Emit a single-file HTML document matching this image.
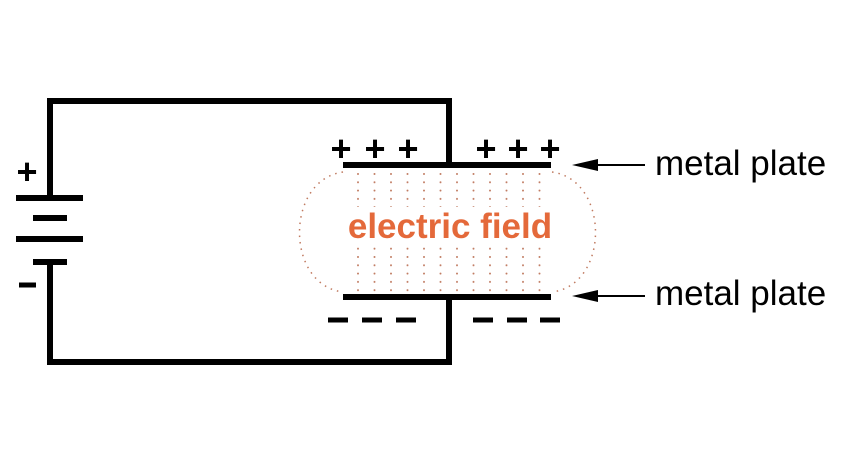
<!DOCTYPE html>
<html><head><style>body{margin:0;background:#fff}</style></head><body>
<svg width="866" height="463" viewBox="0 0 866 463" xmlns="http://www.w3.org/2000/svg">
<defs>
<pattern id="dots" x="357" y="173" width="16.5" height="8.3" patternUnits="userSpaceOnUse">
<circle cx="1" cy="1" r="1" fill="#c07a60"/>
</pattern>
</defs>
<rect x="354" y="172" width="190" height="122" fill="url(#dots)"/>
<rect x="345" y="207" width="212" height="40" fill="#fff"/>
<path d="M343,172 C285,180 285,285 343,292" fill="none" stroke="#c07a60" stroke-width="1.5" stroke-dasharray="1.5,5"/>
<path d="M552,172 C610,180 610,285 552,292" fill="none" stroke="#c07a60" stroke-width="1.5" stroke-dasharray="1.5,5"/>
<g stroke="#000" stroke-width="6" fill="none">
<polyline points="50,198 50,101 449,101 449,165"/>
<polyline points="50,262 50,362 449,362 449,297"/>
<line x1="16" y1="198" x2="83" y2="198"/>
<line x1="33" y1="218" x2="67" y2="218"/>
<line x1="16" y1="239" x2="83" y2="239"/>
<line x1="33" y1="262" x2="67" y2="262"/>
<line x1="343" y1="165" x2="551" y2="165"/>
<line x1="343" y1="297" x2="551" y2="297"/>
</g>
<g stroke="#000" stroke-width="2">
<line x1="580" y1="165" x2="645" y2="165"/>
<line x1="580" y1="296" x2="645" y2="296"/>
</g>
<polygon points="572,165 598,159 598,171" fill="#000"/>
<polygon points="572,296 598,290 598,302" fill="#000"/>
<g font-family="Liberation Sans, sans-serif" font-weight="bold" font-size="36" text-anchor="middle">
<text x="341" y="161">+</text><text x="375" y="161">+</text><text x="408" y="161">+</text>
<text x="486" y="161">+</text><text x="518" y="161">+</text><text x="550" y="161">+</text>
<text x="27" y="184">+</text>
</g>
<g stroke="#000" stroke-width="5">
<line x1="328" y1="320" x2="348" y2="320"/><line x1="362" y1="320" x2="382" y2="320"/><line x1="396" y1="320" x2="416" y2="320"/>
<line x1="473" y1="320" x2="493" y2="320"/><line x1="507" y1="320" x2="527" y2="320"/><line x1="540" y1="320" x2="560" y2="320"/>
<line x1="19" y1="285" x2="36" y2="285"/>
</g>
<text x="450" y="238" font-family="Liberation Sans, sans-serif" font-weight="bold" font-size="35" fill="#e4693a" text-anchor="middle">electric field</text>
<g font-family="Liberation Sans, sans-serif" font-size="35" fill="#000">
<text x="655" y="175">metal plate</text>
<text x="655" y="305">metal plate</text>
</g>
</svg>
</body></html>
